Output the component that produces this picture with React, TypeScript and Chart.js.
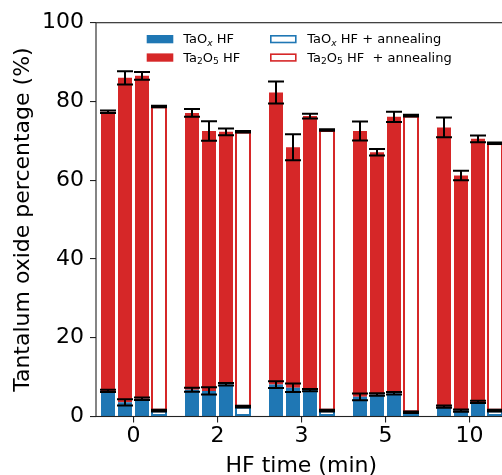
import React, { useEffect, useRef } from 'react';
import { Chart, registerables } from 'chart.js';
Chart.register(...registerables);

// HF time categories (min)
const categories = ['0', '2', '3', '5', '10'];

// Sample 1 (HF)
const taoxS1 = [6.5, 6.8, 8.1, 5.0, 2.5];
const ta2o5S1 = [70.9, 70.3, 74.2, 67.5, 70.9];
const taoxS1Err = [0.3, 0.5, 0.85, 0.85, 0.3];
const totalS1Err = [0.3, 1.0, 2.8, 2.4, 2.5];

// Sample 2 (HF)
const taoxS2 = [3.6, 6.5, 7.3, 5.6, 1.5];
const ta2o5S2 = [82.4, 66.0, 61.1, 61.5, 59.7];
const taoxS2Err = [0.8, 0.9, 1.1, 0.3, 0.3];
const totalS2Err = [1.7, 2.45, 3.3, 0.85, 1.2];

// Sample 3 (HF)
const taoxS3 = [4.5, 8.2, 6.7, 5.9, 3.7];
const ta2o5S3 = [82.0, 64.1, 69.6, 70.2, 66.8];
const taoxS3Err = [0.3, 0.3, 0.3, 0.3, 0.3];
const totalS3Err = [1.0, 0.85, 0.6, 1.3, 0.85];

// HF + annealing
const taoxAnneal = [1.5, 2.5, 1.5, 1.1, 1.5];
const ta2o5Anneal = [77.2, 69.8, 71.25, 75.3, 67.9];
const taoxAnnealErr = [0.2, 0.2, 0.2, 0.2, 0.2];
const totalAnnealErr = [0.2, 0.2, 0.2, 0.2, 0.2];

const yTicks = [0, 20, 40, 60, 80, 100];

const BLUE = '#1f77b4';
const RED = '#d62728';
const FONT = "'DejaVu Sans', sans-serif";

const samples = [
  { taox: taoxS1, ta2o5: ta2o5S1, taoxErr: taoxS1Err, totErr: totalS1Err, anneal: false },
  { taox: taoxS2, ta2o5: ta2o5S2, taoxErr: taoxS2Err, totErr: totalS2Err, anneal: false },
  { taox: taoxS3, ta2o5: ta2o5S3, taoxErr: taoxS3Err, totErr: totalS3Err, anneal: false },
  { taox: taoxAnneal, ta2o5: ta2o5Anneal, taoxErr: taoxAnnealErr, totErr: totalAnnealErr, anneal: true },
];

const CW = 520;
const CH = 485;
const AREA_LEFT = 96;
const AREA_TOP = 22.7;
const AREA_BOTTOM = 416.5;
const AREA_RIGHT = 506.5;
const X0_PIX = 133.5;
const CAT_PIX = 84;
const X_MIN = -(X0_PIX - AREA_LEFT) / CAT_PIX;
const X_MAX = X_MIN + (AREA_RIGHT - AREA_LEFT) / CAT_PIX;

type Seg = { t: string; sub?: boolean; it?: boolean };

function drawRich(ctx: CanvasRenderingContext2D, segs: Seg[], x: number, y: number) {
  let cx = x;
  ctx.textBaseline = 'alphabetic';
  ctx.textAlign = 'left';
  ctx.fillStyle = '#000';
  for (const s of segs) {
    const size = s.sub ? 9.1 : 13;
    ctx.font = `${s.it ? 'italic ' : ''}${size}px ${FONT}`;
    const dy = s.sub ? 2.6 : 0;
    ctx.fillText(s.t, cx, y + dy);
    cx += ctx.measureText(s.t).width;
  }
}

const legendItems: { color: string; filled: boolean; segs: Seg[]; col: number; row: number }[] = [
  { color: BLUE, filled: true, segs: [{ t: 'TaO' }, { t: 'x', sub: true, it: true }, { t: ' HF' }], col: 0, row: 0 },
  { color: RED, filled: true, segs: [{ t: 'Ta' }, { t: '2', sub: true }, { t: 'O' }, { t: '5', sub: true }, { t: ' HF' }], col: 0, row: 1 },
  { color: BLUE, filled: false, segs: [{ t: 'TaO' }, { t: 'x', sub: true, it: true }, { t: ' HF + annealing' }], col: 1, row: 0 },
  { color: RED, filled: false, segs: [{ t: 'Ta' }, { t: '2', sub: true }, { t: 'O' }, { t: '5', sub: true }, { t: ' HF  + annealing' }], col: 1, row: 1 },
];

const extrasPlugin = {
  id: 'extras',
  afterDatasetsDraw(chart: any) {
    const ctx: CanvasRenderingContext2D = chart.ctx;
    const ys = chart.scales.y;
    ctx.save();
    ctx.strokeStyle = '#000';
    ctx.lineWidth = 2;
    const drawErr = (x: number, v: number, e: number) => {
      const yl = ys.getPixelForValue(v - e);
      const yh = ys.getPixelForValue(v + e);
      ctx.beginPath();
      ctx.moveTo(x, yl);
      ctx.lineTo(x, yh);
      ctx.moveTo(x - 8, yl);
      ctx.lineTo(x + 8, yl);
      ctx.moveTo(x - 8, yh);
      ctx.lineTo(x + 8, yh);
      ctx.stroke();
    };
    samples.forEach((s, k) => {
      const meta = chart.getDatasetMeta(2 * k);
      meta.data.forEach((bar: any, i: number) => {
        drawErr(bar.x, s.taox[i], s.taoxErr[i]);
        drawErr(bar.x, s.taox[i] + s.ta2o5[i], s.totErr[i]);
      });
    });
    ctx.restore();
  },
  afterDraw(chart: any) {
    const ctx: CanvasRenderingContext2D = chart.ctx;
    const a = chart.chartArea;
    ctx.save();
    // frame
    ctx.strokeStyle = '#222';
    ctx.lineWidth = 1.1;
    ctx.strokeRect(a.left, a.top, a.right - a.left, a.bottom - a.top);
    // legend
    const colPatchX = [146.7, 270];
    const colTextX = [183.3, 307.3];
    const rowPatchY = [35, 53.4];
    const rowBase = [43.4, 61.8];
    legendItems.forEach((it) => {
      const px = colPatchX[it.col];
      const py = rowPatchY[it.row];
      if (it.filled) {
        ctx.fillStyle = it.color;
        ctx.fillRect(px, py, 26.6, 8.3);
      } else {
        ctx.strokeStyle = it.color;
        ctx.lineWidth = 1.6;
        ctx.strokeRect(px + 0.8, py + 0.8, 25, 6.7);
      }
      drawRich(ctx, it.segs, colTextX[it.col], rowBase[it.row]);
    });
    ctx.restore();
  },
};

export default function App() {
  const ref = useRef<HTMLCanvasElement>(null);
  useEffect(() => {
    if (!ref.current) return;
    const datasets: any[] = [];
    samples.forEach((s, k) => {
      const common = {
        stack: 's' + k,
        categoryPercentage: 68 / 84,
        barPercentage: s.anneal ? 16 / 17 : 14 / 17,
        borderSkipped: false,
        borderWidth: s.anneal ? 2 : 0,
      };
      datasets.push({
        ...common,
        label: s.anneal ? 'TaOx HF + annealing' : 'TaOx HF',
        data: s.taox.map((v, i) => ({ x: i, y: v })),
        backgroundColor: s.anneal ? '#ffffff' : BLUE,
        borderColor: BLUE,
      });
      datasets.push({
        ...common,
        label: s.anneal ? 'Ta2O5 HF + annealing' : 'Ta2O5 HF',
        data: s.ta2o5.map((v, i) => ({ x: i, y: v })),
        backgroundColor: s.anneal ? '#ffffff' : RED,
        borderColor: RED,
      });
    });

    const chart = new Chart(ref.current, {
      type: 'bar',
      data: { datasets },
      plugins: [extrasPlugin],
      options: {
        animation: false,
        responsive: false,
        devicePixelRatio: 1,
        layout: { padding: { left: 0, top: AREA_TOP, right: CW - AREA_RIGHT, bottom: 0 } },
        plugins: { legend: { display: false }, tooltip: { enabled: false } },
        scales: {
          x: {
            type: 'linear',
            min: X_MIN,
            max: X_MAX,
            offset: false,
            stacked: true,
            afterBuildTicks: (scale: any) => {
              scale.ticks = categories.map((_, i) => ({ value: i }));
            },
            afterFit: (scale: any) => {
              scale.height = CH - AREA_BOTTOM;
            },
            ticks: {
              callback: (v: any) => categories[v] ?? '',
              font: { family: FONT, size: 22 },
              color: '#000',
              padding: 1,
              maxRotation: 0,
              autoSkip: false,
            },
            grid: { display: true, drawOnChartArea: false, drawTicks: true, tickLength: 6, color: '#222', lineWidth: 1.1, offset: false },
            border: { display: false },
            title: {
              display: true,
              text: 'HF time (min)',
              font: { family: FONT, size: 22 },
              color: '#000',
              padding: { top: 0, bottom: 5.5 },
            },
          },
          y: {
            min: 0,
            max: 100,
            stacked: true,
            afterBuildTicks: (scale: any) => {
              scale.ticks = yTicks.map((v) => ({ value: v }));
            },
            afterFit: (scale: any) => {
              scale.width = AREA_LEFT;
            },
            ticks: {
              font: { family: FONT, size: 22 },
              color: '#000',
              padding: 6,
            },
            grid: { display: true, drawOnChartArea: false, drawTicks: true, tickLength: 6, color: '#222', lineWidth: 1.1 },
            border: { display: false },
            title: {
              display: true,
              text: 'Tantalum oxide percentage (%)',
              font: { family: FONT, size: 22 },
              color: '#000',
              padding: { top: 10, bottom: 0 },
            },
          },
        },
      } as any,
    });
    return () => chart.destroy();
  }, []);

  return (
    <div style={{ position: 'fixed', left: 0, top: 0, width: 502, height: 475, overflow: 'hidden', background: '#fff' }}>
      <canvas ref={ref} width={CW} height={CH} style={{ width: CW, height: CH, display: 'block' }} />
    </div>
  );
}
